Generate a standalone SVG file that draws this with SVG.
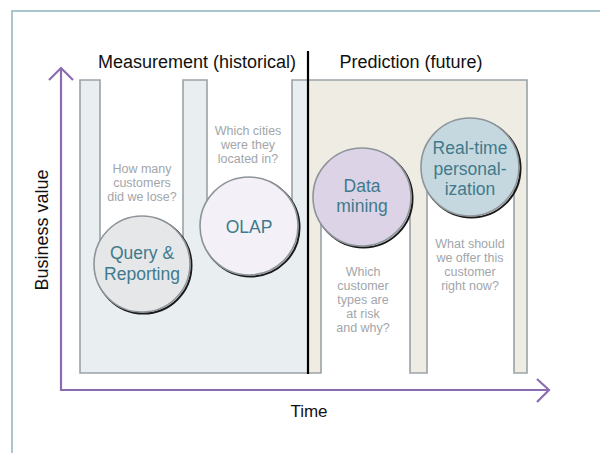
<svg xmlns="http://www.w3.org/2000/svg" width="600" height="453" viewBox="0 0 600 453">
<style>
.frame{fill:none;stroke:#a9c5ce;stroke-width:2}
.cont{stroke:#9aa2a7;stroke-width:1.6;stroke-linejoin:miter}
.axis{fill:none;stroke:#8c6cb0;stroke-width:2.2}
.head{font-family:"Liberation Sans",Arial,sans-serif;font-size:18px;fill:#111;text-anchor:middle}
.q{font-family:"Liberation Sans",Arial,sans-serif;font-size:12.5px;fill:#a2a6aa;text-anchor:middle}
.lbl{font-family:"Liberation Sans",Arial,sans-serif;font-size:17.5px;fill:#3f7a8c;text-anchor:middle}
.shadow{fill:none;stroke:#1a1a1a;stroke-width:2}
.ring{stroke:#8e959a;stroke-width:1.6}
</style>
<rect width="600" height="453" fill="#ffffff"/>
<path class="frame" d="M12,453 V11 H600"/>

<g id="measurement-area">
<path class="cont" fill="#e9eef1" d="M80,80 H100 V264 H183 V80 H207 V226 H292 V80 H308 V373 H80 Z"/>
</g>
<g id="prediction-area">
<path class="cont" fill="#efece4" d="M308,80 H527 V373 H514 V167 H427 V373 H410 V197 H321 V373 H308 Z"/>
</g>

<g id="divider">
<line x1="308" y1="51" x2="308" y2="374" stroke="#000" stroke-width="2.2"/>
</g>

<text class="head" x="197" y="68">Measurement (historical)</text>
<text class="head" x="411" y="68">Prediction (future)</text>

<g id="query-reporting">
<circle class="shadow" cx="143.5" cy="265.5" r="48"/>
<circle class="ring" cx="142" cy="264" r="48" fill="#e6e7e9"/>
<text class="lbl" x="142" y="259">Query &amp;</text>
<text class="lbl" x="142" y="280">Reporting</text>
<text class="q" x="142" y="173">How many</text>
<text class="q" x="142" y="187">customers</text>
<text class="q" x="142" y="201">did we lose?</text>
</g>

<g id="olap">
<circle class="shadow" cx="250.5" cy="227.5" r="49"/>
<circle class="ring" cx="249" cy="226" r="49" fill="#f3f1f7"/>
<text class="lbl" x="249" y="233">OLAP</text>
<text class="q" x="248" y="135">Which cities</text>
<text class="q" x="248" y="149">were they</text>
<text class="q" x="248" y="163">located in?</text>
</g>

<g id="data-mining">
<circle class="shadow" cx="363.5" cy="198.5" r="49"/>
<circle class="ring" cx="362" cy="197" r="49" fill="#dcd3e6"/>
<text class="lbl" x="362" y="192">Data</text>
<text class="lbl" x="362" y="212">mining</text>
<text class="q" x="363" y="276">Which</text>
<text class="q" x="363" y="290">customer</text>
<text class="q" x="363" y="304">types are</text>
<text class="q" x="363" y="318">at risk</text>
<text class="q" x="363" y="332">and why?</text>
</g>

<g id="real-time-personalization">
<circle class="shadow" cx="471.5" cy="168.5" r="49"/>
<circle class="ring" cx="470" cy="167" r="49" fill="#c6d8df"/>
<text class="lbl" x="470" y="154">Real-time</text>
<text class="lbl" x="470" y="175">personal-</text>
<text class="lbl" x="470" y="195">ization</text>
<text class="q" x="470" y="248">What should</text>
<text class="q" x="470" y="262">we offer this</text>
<text class="q" x="470" y="276">customer</text>
<text class="q" x="470" y="290">right now?</text>
</g>

<g id="connectors">
<path class="axis" d="M61,69 V390 H548"/>
<path class="axis" d="M49,80 L61,68 L73,80"/>
<path class="axis" d="M537,379 L549,390 L537,402"/>
</g>

<text class="head" x="0" y="0" transform="translate(48,230) rotate(-90)" font-size="17">Business value</text>
<text class="head" x="309" y="417" style="font-size:17px">Time</text>
</svg>
